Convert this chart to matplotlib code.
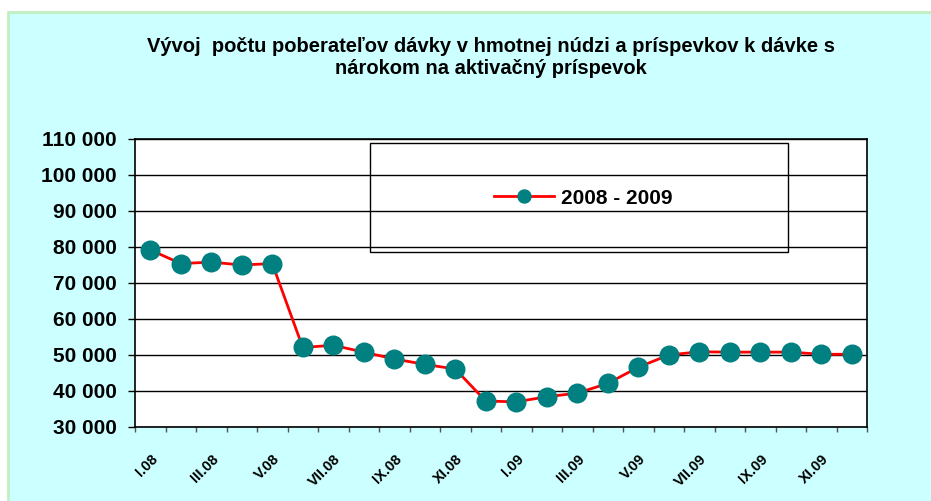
import matplotlib
matplotlib.use("Agg")
import matplotlib.pyplot as plt
from matplotlib.patches import Rectangle
from matplotlib.ticker import FuncFormatter

plt.rcParams['font.family'] = ['Liberation Sans', 'DejaVu Sans']

# monthly counts, I.08 - XII.09
months = ["I.08", "II.08", "III.08", "IV.08", "V.08", "VI.08", "VII.08", "VIII.08",
          "IX.08", "X.08", "XI.08", "XII.08", "I.09", "II.09", "III.09", "IV.09",
          "V.09", "VI.09", "VII.09", "VIII.09", "IX.09", "X.09", "XI.09", "XII.09"]
counts = [79200, 75400, 75800, 75000, 75400, 52100, 52700, 50800, 48900, 47400,
          46100, 37200, 37000, 38400, 39400, 42100, 46600, 50000, 50900, 50800,
          50800, 50800, 50200, 50200]
series_name = "2008 - 2009"
title = ("Vývoj  počtu poberateľov dávky v hmotnej núdzi a príspevkov k dávke s\n"
         "nárokom na aktivačný príspevok")

fig = plt.figure(figsize=(9.31, 5.01), dpi=100)
fig.patch.set_facecolor("white")

# cyan chart area with light green border, kept behind the axes
fig.add_artist(Rectangle((8 / 931, -0.01), 1.0, (501 - 12) / 501 + 0.01,
                         transform=fig.transFigure, facecolor="#ccffff",
                         edgecolor="#c0f0c0", linewidth=2, zorder=-10))

fig.text(491 / 931, 1 - 58 / 501, title, ha="center", va="center",
         fontsize=14.5, fontweight="bold", linespacing=1.2)

ax = fig.add_axes([135 / 931, (501 - 427) / 501, 732 / 931, 288 / 501])
ax.set_facecolor("white")

x = list(range(len(months)))
ax.plot(x, counts, color="red", linewidth=2.0, marker="o", markersize=13.4,
        markerfacecolor="#008080", markeredgecolor="#008080", zorder=3,
        label=series_name, clip_on=False)

ax.set_xlim(-0.5, len(months) - 0.5)
ax.set_ylim(30000, 110000)
ax.set_yticks(range(30000, 110001, 10000))
ax.yaxis.set_major_formatter(FuncFormatter(lambda v, p: f"{int(v):,}".replace(",", " ")))
ax.grid(axis="y", color="black", linewidth=1, zorder=1)
ax.set_axisbelow(True)

# tick marks between categories, labels on every second month
ax.set_xticks([i - 0.5 for i in range(len(months) + 1)])
ax.set_xticklabels([])
ax.set_xticks(x[::2], minor=True)
ax.set_xticklabels(months[::2], minor=True, rotation=45, ha="right",
                   rotation_mode="anchor", fontsize=10.5, fontweight="bold")
ax.tick_params(axis="x", which="major", length=3.5, width=1, color="#555555")
ax.tick_params(axis="x", which="minor", length=0, pad=18)
ax.tick_params(axis="y", length=5, width=1, labelsize=15, pad=8)
for lab in ax.get_yticklabels():
    lab.set_fontweight("bold")

for s in ax.spines.values():
    s.set_color("black")
    s.set_linewidth(1.2)

# legend box
ax.add_patch(Rectangle((0.321, 0.608), 0.571, 0.378, transform=ax.transAxes,
                       fill=False, edgecolor="black", linewidth=1, zorder=4))
ax.legend(loc="center", bbox_to_anchor=(0.612, 0.795), frameon=False,
          prop={"weight": "bold", "size": 15}, handlelength=2.9,
          handletextpad=0.3, markerscale=0.7)

fig.savefig("out.png", dpi=100)
